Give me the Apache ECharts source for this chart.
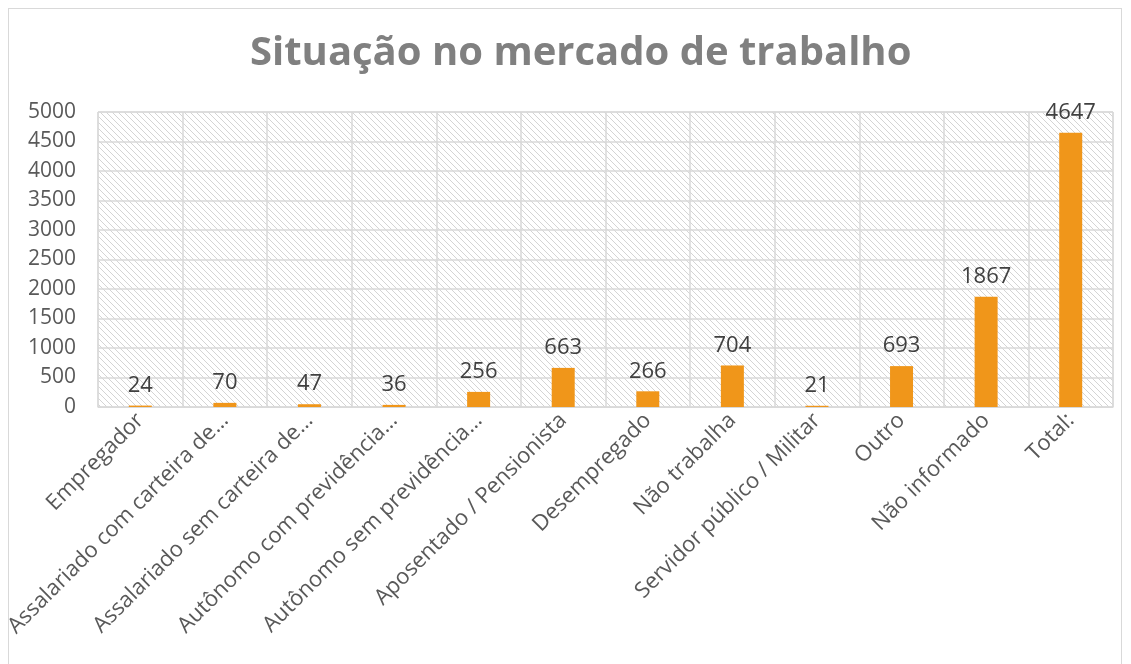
<!DOCTYPE html>
<html>
<head>
<meta charset="utf-8">
<script src="https://cdn.jsdelivr.net/npm/echarts@6/dist/echarts.min.js"></script>
<style>
  html, body { margin: 0; padding: 0; background: #fff; }
  #frame { position: absolute; left: 8px; top: 8px; width: 1114px; height: 670px; border: 1px solid #d9d9d9; box-sizing: border-box; }
  #main { position: absolute; left: 0; top: 0; width: 1131px; height: 664px; }
</style>
</head>
<body>
<div id="frame"></div>
<div id="main"></div>
<script>
var categories = ['Empregador', 'Assalariado com carteira de…', 'Assalariado sem carteira de…',
  'Autônomo com previdência…', 'Autônomo sem previdência…', 'Aposentado / Pensionista',
  'Desempregado', 'Não trabalha', 'Servidor público / Militar', 'Outro', 'Não informado', 'Total:'];
var values = [24, 70, 47, 36, 256, 663, 266, 704, 21, 693, 1867, 4647];

// diagonal hatch for the plot area
var tile = document.createElement('canvas');
tile.width = 6; tile.height = 6;
var c = tile.getContext('2d');
c.fillStyle = '#fff';
c.fillRect(0, 0, 6, 6);
c.strokeStyle = '#d4d4d4';
c.lineWidth = 1;
c.beginPath();
c.moveTo(-1, -1); c.lineTo(7, 7);
c.moveTo(-1, 5); c.lineTo(1, 7);
c.moveTo(5, -1); c.lineTo(7, 1);
c.stroke();

var chart = echarts.init(document.getElementById('main'));
chart.setOption({
  title: {
    text: 'Situação no mercado de trabalho',
    left: 245,
    top: 29,
    textStyle: { fontFamily: 'Open Sans', fontWeight: 'bold', fontSize: 40, color: '#808080' }
  },
  grid: {
    left: 98, right: 18, top: 112, bottom: 257,
    show: true,
    borderColor: '#d9d9d9',
    borderWidth: 1,
    backgroundColor: { image: tile, repeat: 'repeat' }
  },
  xAxis: {
    type: 'category',
    data: categories,
    axisLine: { show: true, lineStyle: { color: '#d9d9d9' } },
    axisTick: { show: false },
    splitLine: { show: true, lineStyle: { color: '#d9d9d9', width: 1.5 } },
    axisLabel: { rotate: 45, interval: 0, fontFamily: 'Open Sans', fontSize: 22, color: '#595959', margin: 10 }
  },
  yAxis: {
    type: 'value',
    min: 0, max: 5000, interval: 500,
    axisLine: { show: false },
    axisTick: { show: false },
    splitLine: { lineStyle: { color: '#d9d9d9', width: 1.5 } },
    axisLabel: { fontFamily: 'Open Sans', fontSize: 21, color: '#595959', margin: 22, formatter: function (v) { return String(v); } }
  },
  series: [{
    type: 'bar',
    data: values,
    barWidth: 23,
    itemStyle: { color: '#f0961a' },
    label: { show: true, position: 'top', distance: 9, fontFamily: 'Open Sans', fontSize: 22, color: '#404040' }
  }]
});
</script>
</body>
</html>
